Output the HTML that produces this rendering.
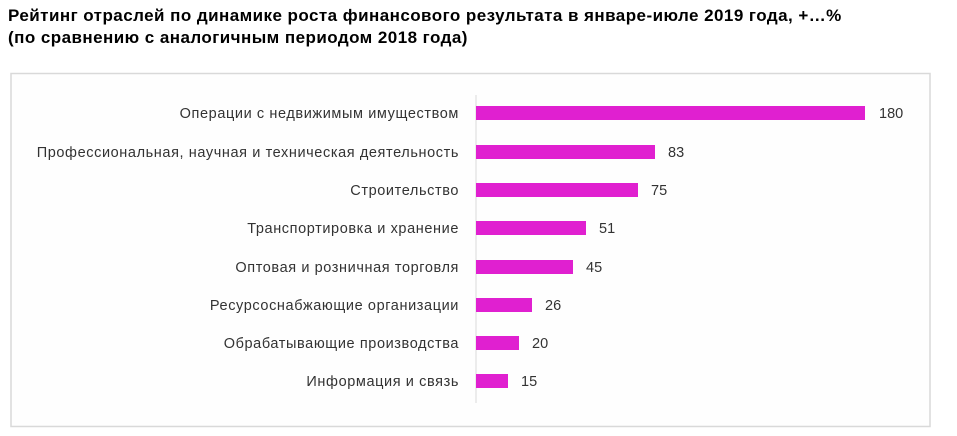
<!DOCTYPE html>
<html><head><meta charset="utf-8"><style>
body{margin:0;background:#fff;width:957px;height:436px;overflow:hidden;font-family:"Liberation Sans",Arial,sans-serif}
.t{position:absolute;left:8px;top:5px;font-weight:bold;font-size:17px;letter-spacing:0.45px;line-height:22px;color:#000}
</style></head><body>
<div class="t">Рейтинг отраслей по динамике роста финансового результата в январе-июле 2019 года, +…%<br>(по сравнению с аналогичным периодом 2018 года)</div>
<svg style="position:absolute;left:0;top:0" width="957" height="436" font-family="Liberation Sans, Arial, sans-serif" font-size="14.5" fill="#333">
<rect x="11" y="73.5" width="919" height="353" fill="#fefefe" stroke="#d9d9d9" stroke-width="1.5"/>
<line x1="476" y1="95" x2="476" y2="403" stroke="#d9d9d9"/>
<g fill="#e020d0">
<rect x="476" y="106" width="389" height="14"/>
<rect x="476" y="145" width="179" height="14"/>
<rect x="476" y="183" width="162" height="14"/>
<rect x="476" y="221" width="110" height="14"/>
<rect x="476" y="260" width="97" height="14"/>
<rect x="476" y="298" width="56" height="14"/>
<rect x="476" y="336" width="43" height="14"/>
<rect x="476" y="374" width="32" height="14"/>
</g>
<g text-anchor="end" letter-spacing="0.6">
<text x="459" y="118">Операции с недвижимым имуществом</text>
<text x="459" y="157">Профессиональная, научная и техническая деятельность</text>
<text x="459" y="195">Строительство</text>
<text x="459" y="233">Транспортировка и хранение</text>
<text x="459" y="272">Оптовая и розничная торговля</text>
<text x="459" y="310">Ресурсоснабжающие организации</text>
<text x="459" y="348">Обрабатывающие производства</text>
<text x="459" y="386">Информация и связь</text>
</g>
<text x="879" y="118">180</text>
<text x="668" y="157">83</text>
<text x="651" y="195">75</text>
<text x="599" y="233">51</text>
<text x="586" y="272">45</text>
<text x="545" y="310">26</text>
<text x="532" y="348">20</text>
<text x="521" y="386">15</text>
</svg>
</body></html>
